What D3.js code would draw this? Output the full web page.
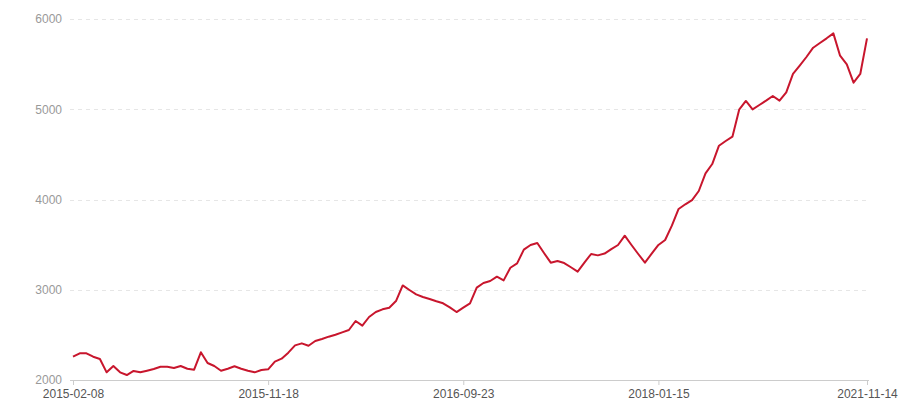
<!DOCTYPE html>
<html>
<head>
<meta charset="utf-8">
<script src="https://cdn.jsdelivr.net/npm/d3@7"></script>
<style>
  html, body { margin: 0; padding: 0; background: #fff; }
  svg { display: block; font-family: "Liberation Sans", Arial, sans-serif; }
</style>
</head>
<body>
<svg id="chart" width="900" height="400"></svg>
<script>
// Series values (one point per category, evenly spaced on a category axis)
const values = [
  2258, 2296, 2296, 2258, 2233, 2085, 2155, 2085, 2055, 2100,
  2085, 2103, 2122, 2147, 2147, 2133, 2155, 2125, 2114, 2307,
  2188, 2155, 2103, 2125, 2152, 2125, 2103, 2085, 2111, 2118,
  2203, 2236, 2303, 2384, 2406, 2380, 2432, 2454, 2480, 2502,
  2528, 2554, 2654, 2602, 2698, 2753, 2783, 2801, 2875, 3048,
  2997, 2949, 2920, 2898, 2872, 2850, 2805, 2753, 2801, 2848,
  3023, 3075, 3097, 3145, 3104, 3244, 3292, 3444, 3496, 3518,
  3407, 3300, 3319, 3296, 3249, 3200, 3300, 3396, 3381, 3401,
  3451, 3496, 3599, 3496, 3396, 3300, 3400, 3496, 3551, 3710,
  3895, 3947, 3994, 4094, 4290, 4393, 4596, 4648, 4696, 4995,
  5092, 4999, 5047, 5095, 5147, 5095, 5188, 5391, 5483, 5579,
  5682, 5734, 5786, 5841, 5593, 5497, 5294, 5391, 5786
];
// Category labels that are shown on the x axis, with the category index they belong to
const tickIndex = [0, 29, 58, 87, 118];
const tickLabels = ["2015-02-08", "2015-11-18", "2016-09-23", "2018-01-15", "2021-11-14"];
// Y axis ticks
const yTicks = [2000, 3000, 4000, 5000, 6000];

const svg = d3.select("#chart");
const plotLeft = 70, plotRight = 869, plotTop = 19, plotBottom = 380;

const x = d3.scaleLinear().domain([0, values.length - 1]).range([73, 867]);
const y = d3.scaleLinear().domain([2000, 6000]).range([plotBottom, plotTop]);

// grid lines
svg.append("g").selectAll("line").data(yTicks.filter(t => t !== 2000)).join("line")
  .attr("x1", plotLeft).attr("x2", plotRight)
  .attr("y1", d => Math.round(y(d)) + 0.5).attr("y2", d => Math.round(y(d)) + 0.5)
  .attr("stroke", "#e6e6e6").attr("stroke-width", 1).attr("stroke-dasharray", "4,4");

// y axis labels
const yAxis = d3.axisLeft(y).tickValues(yTicks).tickSize(0).tickPadding(8).tickFormat(d3.format("d"));
const gy = svg.append("g").attr("transform", `translate(${plotLeft},0)`).call(yAxis);
gy.select(".domain").remove();
gy.selectAll("text").attr("fill", "#999").attr("font-size", 12)
  .attr("font-family", "'Liberation Sans', Arial, sans-serif");

// x axis line
svg.append("line").attr("x1", plotLeft).attr("x2", plotRight)
  .attr("y1", plotBottom + 0.5).attr("y2", plotBottom + 0.5)
  .attr("stroke", "#cccccc").attr("stroke-width", 1);

// x axis ticks & labels
const xAxis = d3.axisBottom(x).tickValues(tickIndex).tickSize(5).tickPadding(4)
  .tickFormat((d, i) => tickLabels[i]);
const gx = svg.append("g").attr("transform", `translate(0,${plotBottom})`).call(xAxis);
gx.select(".domain").remove();
gx.selectAll(".tick line").attr("stroke", "#cccccc");
gx.selectAll("text").attr("fill", "#555").attr("font-size", 12)
  .attr("font-family", "'Liberation Sans', Arial, sans-serif");

// line
const line = d3.line().x((d, i) => x(i)).y(d => y(d));
svg.append("path").datum(values)
  .attr("d", line)
  .attr("fill", "none")
  .attr("stroke", "#c8162d")
  .attr("stroke-width", 2)
  .attr("stroke-linejoin", "round");
</script>
</body>
</html>
